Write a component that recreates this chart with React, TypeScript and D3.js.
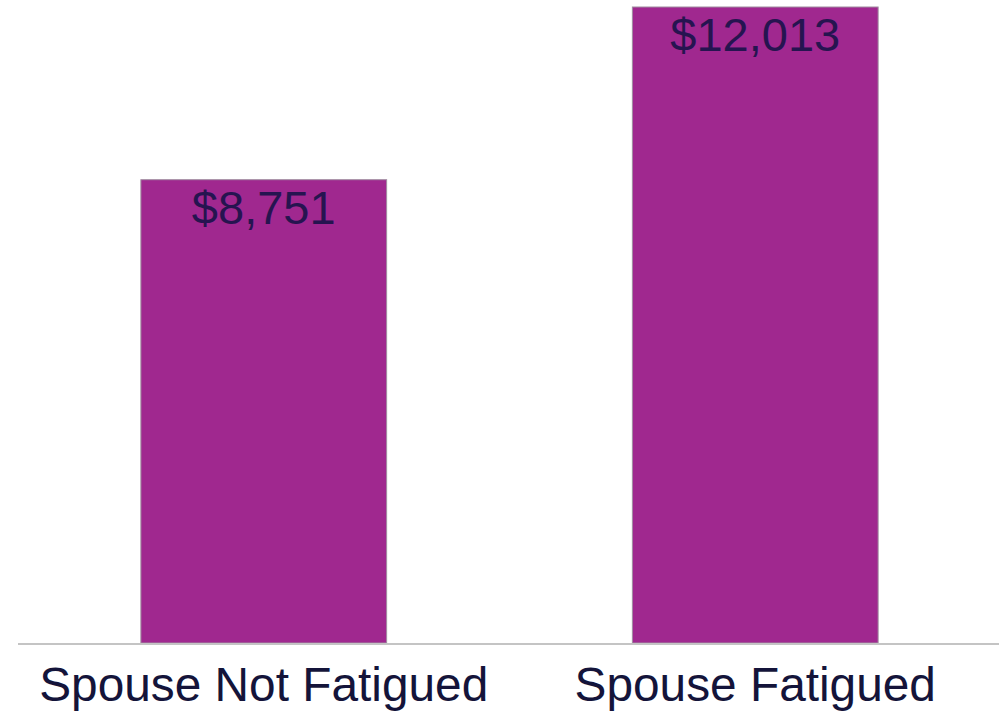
import React, { useRef, useEffect } from 'react';
import * as d3 from 'd3';

const categories = ['Spouse Not Fatigued', 'Spouse Fatigued'];
const costs = [8751, 12013];
const valueLabels = ['$8,751', '$12,013'];

const W = 999;
const H = 712;

export default function App() {
  const svgRef = useRef<SVGSVGElement>(null);

  useEffect(() => {
    if (!svgRef.current) return;
    const svg = d3.select(svgRef.current);
    svg.selectAll('*').remove();

    const x = d3.scaleBand<string>()
      .domain(categories)
      .range([18, 1001])
      .paddingInner(0.5)
      .paddingOuter(0.25);

    const y = d3.scaleLinear()
      .domain([0, d3.max(costs) as number])
      .range([643, 7]);

    const data = categories.map((c, i) => ({ c, v: costs[i], label: valueLabels[i] }));

    // bars
    svg.append('g')
      .selectAll('rect')
      .data(data)
      .join('rect')
      .attr('x', d => x(d.c)!)
      .attr('y', d => y(d.v))
      .attr('width', x.bandwidth())
      .attr('height', d => y(0) - y(d.v))
      .attr('fill', '#a0288f')
      .attr('stroke', '#a08ca0')
      .attr('stroke-width', 1);

    // baseline
    svg.append('line')
      .attr('x1', 18)
      .attr('x2', W)
      .attr('y1', y(0) + 1)
      .attr('y2', y(0) + 1)
      .attr('stroke', '#c4c4c4')
      .attr('stroke-width', 2);

    // value labels inside bar tops
    svg.append('g')
      .selectAll('text')
      .data(data)
      .join('text')
      .attr('x', d => x(d.c)! + x.bandwidth() / 2)
      .attr('y', d => y(d.v) + 44)
      .attr('text-anchor', 'middle')
      .attr('font-family', '"Liberation Sans", Arial, sans-serif')
      .attr('font-size', 47)
      .attr('fill', '#261450')
      .text(d => d.label);

    // category labels
    svg.append('g')
      .selectAll('text')
      .data(data)
      .join('text')
      .attr('x', d => x(d.c)! + x.bandwidth() / 2)
      .attr('y', 701)
      .attr('text-anchor', 'middle')
      .attr('font-family', '"Liberation Sans", Arial, sans-serif')
      .attr('font-size', 47.8)
      .attr('fill', '#14143a')
      .text(d => d.c);
  }, []);

  return (
    <svg
      ref={svgRef}
      width={W}
      height={H}
      style={{ position: 'absolute', top: 0, left: 0, background: '#fff' }}
    />
  );
}
